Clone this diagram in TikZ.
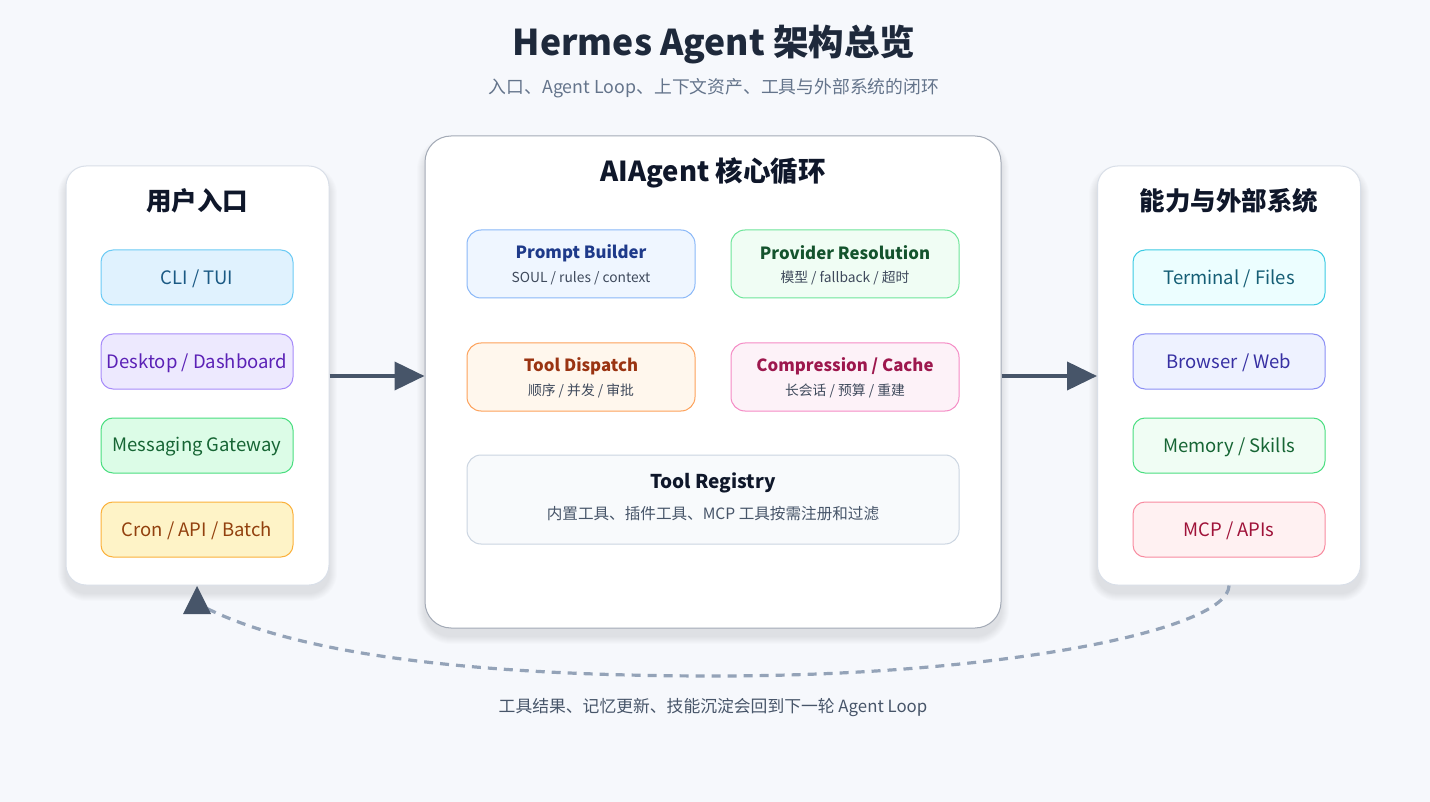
\documentclass[tikz,border=0pt]{standalone}
\usepackage{fontspec}
\setmainfont{Noto Sans CJK SC}
\usetikzlibrary{arrows.meta}
\definecolor{bg}{HTML}{F6F8FC}
\definecolor{ink}{HTML}{1E293B}
\definecolor{sub}{HTML}{64748B}
\definecolor{panelborder}{HTML}{D9DFE8}
\definecolor{coreborder}{HTML}{A3AAB6}
\definecolor{arrowc}{HTML}{475569}
\definecolor{dashc}{HTML}{94A3B8}
\definecolor{smalltxt}{HTML}{3F4A5C}
\definecolor{shadowc}{HTML}{1E293B}
% left
\definecolor{cliF}{HTML}{E0F2FE}\definecolor{cliD}{HTML}{6CCBF5}\definecolor{cliT}{HTML}{1B5A84}
\definecolor{deskF}{HTML}{EDE9FE}\definecolor{deskD}{HTML}{A78BFA}\definecolor{deskT}{HTML}{5B21B6}
\definecolor{msgF}{HTML}{DCFCE7}\definecolor{msgD}{HTML}{4ADE80}\definecolor{msgT}{HTML}{166534}
\definecolor{cronF}{HTML}{FEF3C7}\definecolor{cronD}{HTML}{FBB13C}\definecolor{cronT}{HTML}{92400E}
% center
\definecolor{pbF}{HTML}{EFF6FF}\definecolor{pbD}{HTML}{8AB8F8}\definecolor{pbT}{HTML}{1E3A8A}
\definecolor{prF}{HTML}{F0FDF4}\definecolor{prD}{HTML}{6EE59A}\definecolor{prT}{HTML}{14532D}
\definecolor{tdF}{HTML}{FFF7ED}\definecolor{tdD}{HTML}{FDA15A}\definecolor{tdT}{HTML}{9A3412}
\definecolor{ccF}{HTML}{FDF2F8}\definecolor{ccD}{HTML}{F58BC5}\definecolor{ccT}{HTML}{9D174D}
\definecolor{trF}{HTML}{F8FAFC}\definecolor{trD}{HTML}{CBD5E1}\definecolor{trT}{HTML}{0F172A}
% right
\definecolor{tfF}{HTML}{ECFEFF}\definecolor{tfD}{HTML}{3CCBE3}\definecolor{tfT}{HTML}{155E75}
\definecolor{bwF}{HTML}{EEF2FF}\definecolor{bwD}{HTML}{8B8FF5}\definecolor{bwT}{HTML}{3730A3}
\definecolor{msF}{HTML}{F0FDF4}\definecolor{msD}{HTML}{4ADE80}\definecolor{msT}{HTML}{166534}
\definecolor{mcF}{HTML}{FFF1F2}\definecolor{mcD}{HTML}{F88BA0}\definecolor{mcT}{HTML}{9F1239}
\newcommand{\softshadow}[5]{%
  \foreach \i in {1,...,8} {
    \fill[shadowc, fill opacity=0.012, rounded corners=#5+\i]
      (#1-\i,#2-\i+8) rectangle (#3+\i,#4+\i+8);
  }%
}
\tikzset{
  panel/.style={draw=panelborder, line width=1pt, fill=white, rounded corners=20pt,
    minimum width=263pt, minimum height=419pt, inner sep=0pt},
  corepanel/.style={draw=coreborder, line width=1pt, fill=white, rounded corners=26pt,
    minimum width=576pt, minimum height=492pt, inner sep=0pt},
  ptitle/.style={font=\bfseries\fontsize{25.5}{30}\selectfont, text=trT, inner sep=0pt},
  entry/.style={rounded corners=12pt, line width=1pt, minimum width=192pt, minimum height=55pt,
    inner sep=0pt, font=\fontsize{18.5}{22}\selectfont},
  etext/.style={inner sep=0pt, font=\fontsize{18.5}{22}\selectfont},
  card/.style={rounded corners=14pt, line width=1pt, minimum width=228pt, minimum height=68pt, inner sep=0pt},
  cardtitle/.style={font=\bfseries\fontsize{16.8}{20}\selectfont, inner sep=0pt},
  cardsub/.style={font=\fontsize{13.8}{16}\selectfont, text=smalltxt, inner sep=0pt},
  flow/.style={draw=arrowc, line width=4pt, -{Triangle[length=30pt,width=28pt]}},
}
\begin{document}
\begin{tikzpicture}[x=1pt,y=-1pt]
\fill[bg] (0,0) rectangle (1430,802);
\useasboundingbox (0,0) rectangle (1430,802);

% title
\node[font=\bfseries\fontsize{35.5}{42}\selectfont, text=ink, inner sep=0pt] (title) at (714,44) {Hermes Agent 架构总览};
\node[font=\fontsize{17.8}{21}\selectfont, text=sub, inner sep=0pt] (subtitle) at (714,88) {入口、Agent Loop、上下文资产、工具与外部系统的闭环};

% panel shadows
\softshadow{66}{166}{329}{585}{20}
\softshadow{425}{136}{1001}{628}{26}
\softshadow{1097}{166}{1361}{585}{20}

% panels
\node[panel] (left) at (197.5,375.5) {};
\node[corepanel] (core) at (713,382) {};
\node[panel] (right) at (1229,375.5) {};

% left panel
\node[ptitle] (lt) at (197,201) {用户入口};
\node[entry, fill=cliF, draw=cliD] (cli) at (197,277.5) {};
\node[etext, text=cliT] at (197,279) {CLI / TUI};
\node[entry, fill=deskF, draw=deskD] (desk) at (197,361.5) {};
\node[etext, text=deskT] at (197,363) {Desktop / Dashboard};
\node[entry, fill=msgF, draw=msgD] (msg) at (197,445.5) {};
\node[etext, text=msgT] at (197,447) {Messaging Gateway};
\node[entry, fill=cronF, draw=cronD] (cron) at (197,529.5) {};
\node[etext, text=cronT] at (197,531) {Cron / API / Batch};

% core panel
\node[font=\bfseries\fontsize{27.5}{32}\selectfont, text=trT, inner sep=0pt] (ct) at (713,173) {AIAgent 核心循环};
\node[card, fill=pbF, draw=pbD] (pb) at (581,264) {};
\node[cardtitle, text=pbT] at (581,253) {Prompt Builder};
\node[cardsub] at (581,278) {SOUL / rules / context};
\node[card, fill=prF, draw=prD] (pr) at (845,264) {};
\node[cardtitle, text=prT] at (845,253) {Provider Resolution};
\node[cardsub] at (845,278) {模型 / fallback / 超时};
\node[card, fill=tdF, draw=tdD] (td) at (581,377) {};
\node[cardtitle, text=tdT] at (581,366) {Tool Dispatch};
\node[cardsub] at (581,391) {顺序 / 并发 / 审批};
\node[card, fill=ccF, draw=ccD] (cc) at (845,377) {};
\node[cardtitle, text=ccT] at (845,366) {Compression / Cache};
\node[cardsub] at (845,391) {长会话 / 预算 / 重建};
\node[card, fill=trF, draw=trD, minimum width=492pt, minimum height=89pt] (tr) at (713,499.5) {};
\node[font=\bfseries\fontsize{19}{23}\selectfont, text=trT, inner sep=0pt] at (713,483) {Tool Registry};
\node[font=\fontsize{15.6}{19}\selectfont, text=arrowc, inner sep=0pt] at (713,514) {内置工具、插件工具、MCP 工具按需注册和过滤};

% right panel
\node[ptitle] (rt) at (1229,201) {能力与外部系统};
\node[entry, fill=tfF, draw=tfD] (tf) at (1229,277.5) {};
\node[etext, text=tfT] at (1229,279) {Terminal / Files};
\node[entry, fill=bwF, draw=bwD] (bw) at (1229,361.5) {};
\node[etext, text=bwT] at (1229,363) {Browser / Web};
\node[entry, fill=msF, draw=msD] (ms) at (1229,445.5) {};
\node[etext, text=msT] at (1229,447) {Memory / Skills};
\node[entry, fill=mcF, draw=mcD] (mc) at (1229,529.5) {};
\node[etext, text=mcT] at (1229,531) {MCP / APIs};

% arrows
\draw[flow] (left.east |- 0,376) -- (core.west |- 0,376);
\draw[flow] (core.east |- 0,376) -- (right.west |- 0,376);

% feedback loop
\coordinate (loopend) at (206,608);
\draw[dashc, line width=3.2pt, dash pattern=on 9pt off 7pt]
  (right.south) .. controls (1229,630) and (1000,676) .. (715,676)
  .. controls (450,676) and (290,650) .. (loopend);
\fill[arrowc] (197,586) -- (211,614) -- (183,614) -- cycle;
\node[font=\fontsize{16.8}{20}\selectfont, text=arrowc, inner sep=0pt] (loopnote) at (713,707) {工具结果、记忆更新、技能沉淀会回到下一轮 Agent Loop};
\end{tikzpicture}
\end{document}
